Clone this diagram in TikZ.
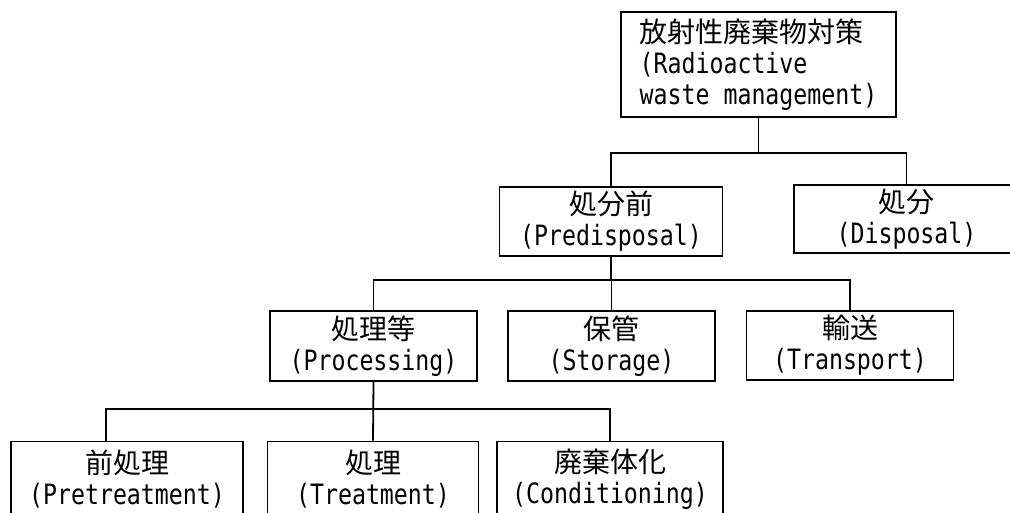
\documentclass[tikz,border=0pt]{standalone}
\usepackage{fontspec}
\newfontfamily\jpfont{Noto Sans CJK JP}
\newfontfamily\latfont[FakeStretch=0.83]{DejaVu Sans Mono}
\newcommand\jtext[1]{{\jpfont #1}}
\begin{document}
\begin{tikzpicture}[x=1pt,y=-1pt,
  box/.style={draw, line width=1.8pt, inner sep=0pt, align=center,
    font=\fontsize{28}{31}\selectfont\latfont},
  link/.style={line width=1.8pt}]
% page area
\fill[white] (0,0) rectangle (1010,513);
\clip (0,0) rectangle (1010,513);

% level 0
\node[box, align=left, minimum width=275pt, minimum height=105pt] (root) at (758.5,64.5)
  {\jtext{放射性廃棄物対策}\\(Radioactive\\waste management)};

% level 1
\node[box, minimum width=223pt, minimum height=69pt] (pre) at (611,221.5)
  {\jtext{処分前}\\(Predisposal)};
\node[box, minimum width=225pt, minimum height=68pt] (disp) at (906.5,219)
  {\jtext{処分}\\(Disposal)};

% level 2
\node[box, minimum width=207pt, minimum height=70pt] (proc) at (373.5,346)
  {\jtext{処理等}\\(Processing)};
\node[box, minimum width=207pt, minimum height=70pt] (stor) at (611.5,346)
  {\jtext{保管}\\(Storage)};
\node[box, minimum width=207pt, minimum height=69pt] (trans) at (850,345.5)
  {\jtext{輸送}\\(Transport)};

% level 3
\node[box, minimum width=232pt, minimum height=76pt] (pret) at (127,479.5)
  {\jtext{前処理}\\(Pretreatment)};
\node[box, minimum width=211pt, minimum height=76pt] (treat) at (373,479.5)
  {\jtext{処理}\\(Treatment)};
\node[box, minimum width=226pt, minimum height=76pt] (cond) at (610,479.5)
  {\jtext{廃棄体化}\\(Conditioning)};

% bus levels
\coordinate (busA) at (0,153);
\coordinate (busB) at (0,280);
\coordinate (busC) at (0,409);

% connectors
\draw[link] (root.south) -- (root.south |- busA);
\draw[link] (pre.north) |- (disp.north |- busA) -- (disp.north);

\draw[link] (pre.south) -- (pre.south |- busB);
\draw[link] (proc.north) |- (trans.north |- busB) -- (trans.north);
\draw[link] (stor.north) -- (stor.north |- busB);

\draw[link] (proc.south) -- (treat.north);
\draw[link] ([xshift=-21pt]pret.north) |- (cond.north |- busC) -- (cond.north);
\end{tikzpicture}
\end{document}
